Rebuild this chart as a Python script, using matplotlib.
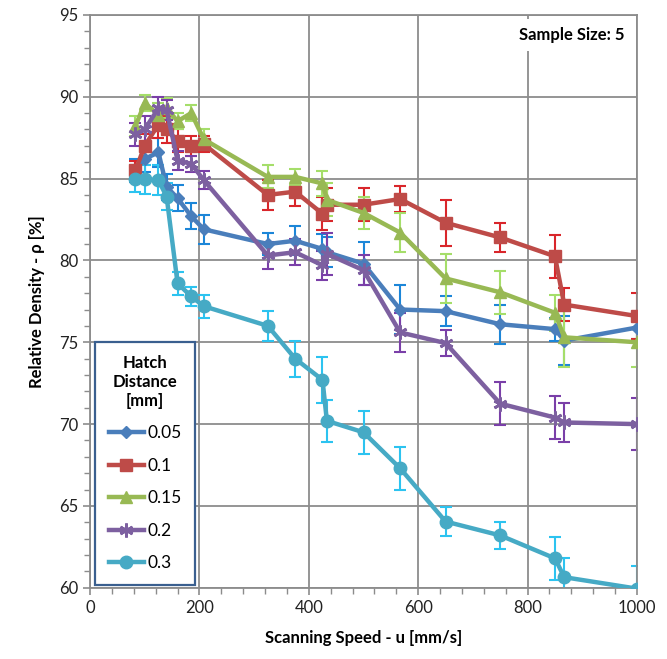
import matplotlib
matplotlib.use('Agg')
from matplotlib import pyplot as plt
from matplotlib.ticker import MultipleLocator

plt.rcParams['font.family'] = ['Lato', 'DejaVu Sans']

speed = [83, 100, 125, 140, 160, 185, 208, 325, 375, 425, 433, 500, 567, 650, 750, 850, 867, 1000]

hatch_labels = ['0.05', '0.1', '0.15', '0.2', '0.3']

dens_005 = [85.5, 86.2, 86.6, 84.5, 83.8, 82.7, 81.9, 81.0, 81.2, 80.7, 80.5, 79.8, 77.0, 76.9, 76.1, 75.8, 75.1, 75.9]
dens_01 = [85.5, 87.0, 88.3, 88.0, 87.3, 87.0, 87.1, 84.0, 84.2, 82.85, 83.4, 83.4, 83.75, 82.3, 81.4, 80.25, 77.3, 76.6]
dens_015 = [88.2, 89.6, 88.9, 89.3, 88.5, 89.0, 87.4, 85.1, 85.1, 84.7, 83.7, 82.9, 81.7, 78.9, 78.05, 76.8, 75.3, 75.0]
dens_02 = [87.7, 88.0, 89.3, 89.2, 86.1, 85.9, 84.9, 80.3, 80.5, 79.7, 80.4, 79.4, 75.6, 74.95, 71.25, 70.4, 70.1, 70.0]
dens_03 = [85.0, 84.95, 84.9, 83.9, 78.6, 77.8, 77.2, 76.0, 74.0, 72.7, 70.2, 69.5, 67.3, 64.05, 63.2, 61.8, 60.65, 59.95]

err_005 = [0.7, 0.8, 0.9, 0.8, 0.8, 0.8, 0.9, 0.7, 0.9, 0.9, 0.9, 1.3, 1.5, 0.9, 1.2, 0.7, 1.5, 0.7]
err_01 = [0.6, 0.7, 0.8, 0.8, 0.7, 0.6, 0.5, 0.9, 0.85, 1.0, 1.0, 1.0, 0.8, 1.4, 0.9, 1.3, 1.0, 1.4]
err_015 = [0.6, 0.5, 0.7, 0.6, 0.5, 0.5, 0.6, 0.7, 0.5, 0.75, 1.0, 1.0, 1.2, 1.5, 1.3, 1.1, 1.8, 1.5]
err_02 = [0.7, 0.8, 0.7, 0.6, 0.6, 0.5, 0.55, 0.85, 0.8, 0.9, 1.3, 0.9, 1.2, 0.8, 1.3, 1.3, 1.2, 1.6]
err_03 = [0.8, 0.9, 0.9, 0.8, 0.7, 0.6, 0.7, 0.9, 1.1, 1.4, 1.3, 1.3, 1.3, 0.9, 0.8, 1.3, 1.2, 1.4]

series = [dens_005, dens_01, dens_015, dens_02, dens_03]
errors = [err_005, err_01, err_015, err_02, err_03]
line_colors = ['#4A7EBB', '#BE4B48', '#98B954', '#7D60A0', '#46AAC5']
err_colors = ['#1C86D8', '#D9262B', '#A5DE6A', '#7A3FA8', '#2CC3F0']
markers = ['D', 's', '^', (6, 2, 0), 'o']
msizes = [6, 9, 9, 10, 9]

fig = plt.figure(figsize=(6.67, 6.59), dpi=100)
ax = fig.add_axes([0.135, 0.108, 0.820, 0.8695])

for y, e, lab, lc, ec, m, ms in zip(series, errors, hatch_labels, line_colors, err_colors, markers, msizes):
    ax.errorbar(speed, y, yerr=e, fmt='none', ecolor=ec, elinewidth=1.5,
                capsize=4, capthick=1.5, zorder=2)
    ax.plot(speed, y, color=lc, lw=3.2, marker=m, markersize=ms,
            markeredgecolor=lc, markeredgewidth=2 if m == (6, 2, 0) else 1,
            label=lab, zorder=3)

ax.set_xlim(0, 1000)
ax.set_ylim(60, 95)
ax.xaxis.set_major_locator(MultipleLocator(200))
ax.xaxis.set_minor_locator(MultipleLocator(40))
ax.yaxis.set_major_locator(MultipleLocator(5))
ax.yaxis.set_minor_locator(MultipleLocator(1))
ax.grid(True, which='major', color='#8C8C8C', lw=1.3, zorder=0)
ax.set_axisbelow(True)
for s in ax.spines.values():
    s.set_color('#8C8C8C')
    s.set_linewidth(1.3)
ax.tick_params(which='both', direction='out', color='#8C8C8C', labelsize=12,
               labelcolor='#222222')
ax.tick_params(which='major', length=5, width=1.2)
ax.tick_params(which='minor', length=4, width=1)

ax.set_xlabel('Scanning Speed - u [mm/s]', fontsize=12, fontweight='bold', labelpad=10)
ax.set_ylabel('Relative Density - ρ [%]', fontsize=12, fontweight='bold', labelpad=10)

ax.text(0.978, 0.965, 'Sample Size: 5', transform=ax.transAxes, ha='right', va='center',
        fontsize=12, fontweight='bold',
        bbox=dict(facecolor='white', edgecolor='none', pad=6), zorder=5)

leg = ax.legend(title='Hatch\nDistance\n[mm]', loc='lower left',
                bbox_to_anchor=(0.009, 0.005), borderaxespad=0, fancybox=False,
                framealpha=1, fontsize=12.5, handlelength=2.0, labelspacing=0.95,
                borderpad=0.8, handletextpad=0.2,
                title_fontproperties={'weight': 'bold', 'size': 12})
leg.get_frame().set_edgecolor('#3A5F8F')
leg.get_frame().set_linewidth(1.6)
leg.get_title().set_multialignment('center')
leg.set_zorder(6)

plt.savefig('out.png', dpi=100)
plt.close()
